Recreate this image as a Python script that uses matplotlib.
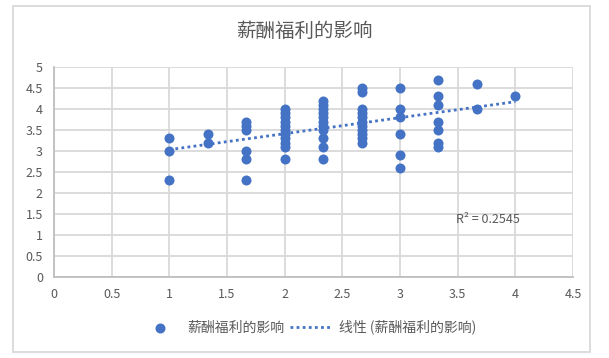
import matplotlib
matplotlib.use("Agg")
import matplotlib.pyplot as plt
from matplotlib.patches import Rectangle
import numpy as np

plt.rcParams['font.family'] = ['Noto Sans CJK SC', 'DejaVu Sans']

title = "薪酬福利的影响"
series_name = "薪酬福利的影响"
trend_name = "线性 (薪酬福利的影响)"
r2_label = "R² = 0.2545"

x_groups = [1.0, 1.333, 1.667, 2.0, 2.333, 2.667, 3.0, 3.333, 3.667, 4.0]
y_groups = [
    [3.3, 3.0, 2.3],
    [3.4, 3.2],
    [3.7, 3.6, 3.5, 3.0, 2.8, 2.3],
    [4.0, 3.9, 3.8, 3.7, 3.6, 3.5, 3.4, 3.3, 3.2, 3.1, 2.8],
    [4.2, 4.1, 4.0, 3.9, 3.8, 3.7, 3.6, 3.5, 3.3, 3.1, 2.8],
    [4.5, 4.4, 4.0, 3.9, 3.8, 3.7, 3.6, 3.5, 3.4, 3.3, 3.2],
    [4.5, 4.0, 3.8, 3.4, 2.9, 2.6],
    [4.7, 4.3, 4.1, 3.7, 3.5, 3.2, 3.1],
    [4.6, 4.0],
    [4.3],
]
x_ticks = [0, 0.5, 1, 1.5, 2, 2.5, 3, 3.5, 4, 4.5]
y_ticks = [0, 0.5, 1, 1.5, 2, 2.5, 3, 3.5, 4, 4.5, 5]

xs = np.concatenate([[xv] * len(ys) for xv, ys in zip(x_groups, y_groups)])
ys = np.concatenate(y_groups)

blue = "#4472C4"
txt = "#595959"
grid = "#D9D9D9"

fig = plt.figure(figsize=(6.09, 3.58), dpi=100)
ax = fig.add_axes([54/609, 1-277/358, (573-54)/609, (277-67)/358])

ax.scatter(xs, ys, s=52, color=blue, zorder=3, label=series_name, linewidths=0)
coef = np.polyfit(xs, ys, 1)
xl = np.array([xs.min(), xs.max()])
ax.plot(xl, np.polyval(coef, xl), linestyle=(0, (1, 1.2)), color=blue, lw=2,
        zorder=4, label=trend_name)

ax.set_xlim(0, 4.5)
ax.set_ylim(0, 5)
ax.set_xticks(x_ticks)
ax.set_yticks(y_ticks)
ax.set_xticklabels([f"{v:g}" for v in x_ticks])
ax.set_yticklabels([f"{v:g}" for v in y_ticks])
ax.grid(True, color=grid, lw=1.3, zorder=0)
ax.set_axisbelow(True)
ax.tick_params(length=0, labelsize=9, colors=txt, pad=8)
for s in ["top", "right"]:
    ax.spines[s].set_visible(False)
for s in ["left", "bottom"]:
    ax.spines[s].set_color("#BFBFBF")
    ax.spines[s].set_linewidth(1.3)

ax.text(3.76, 1.36, r2_label, fontsize=9, color=txt, ha="center", va="center")

fig.text(0.5, 1-31/358, title, ha="center", va="center", fontsize=14, color=txt)

leg = fig.legend(loc="center", bbox_to_anchor=(0.505, 1-327/358), ncol=2, frameon=False,
                 fontsize=10, handlelength=3.0, columnspacing=0.4, handletextpad=0.5)
for t in leg.get_texts():
    t.set_color(txt)

fig.patches.append(Rectangle((13/609, 1-352/358), (590-13)/609, (352-6)/358,
                             transform=fig.transFigure, fill=False,
                             edgecolor="#D9D9D9", lw=1.3))

fig.savefig("out.png", dpi=100)
